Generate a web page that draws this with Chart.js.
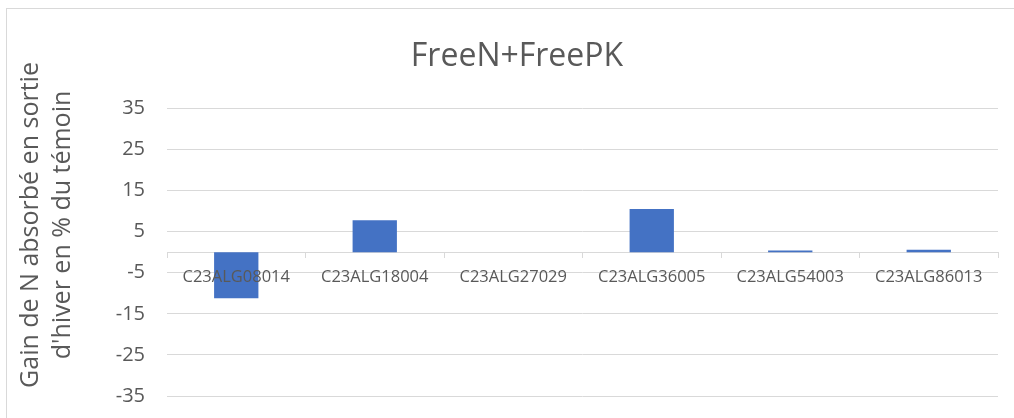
<!DOCTYPE html>
<html lang="fr">
<head>
<meta charset="utf-8">
<title>FreeN+FreePK</title>
<script src="https://cdn.jsdelivr.net/npm/chart.js@4/dist/chart.umd.min.js"></script>
<style>
  html, body { margin:0; padding:0; background:#fff; overflow:hidden; width:1014px; height:418px; }
  #cadre { position:absolute; left:6px; top:8px; width:1100px; height:500px;
           border-left:1px solid #d9d9d9; border-top:1px solid #d9d9d9; pointer-events:none; }
  #c { position:absolute; left:0; top:0; }
</style>
</head>
<body>
<div id="cadre"></div>
<!-- le bas du cadre Excel est coupé : canevas un peu plus haut que la fenêtre -->
<canvas id="c" width="1014" height="430"></canvas>
<script>
// données
const varietes = ['C23ALG08014','C23ALG18004','C23ALG27029','C23ALG36005','C23ALG54003','C23ALG86013'];
const gainN    = [-11.2, 7.8, 0, 10.5, 0.4, 0.6];
const yTicks   = [-35, -25, -15, -5, 5, 15, 25, 35];
const titreY   = ['Gain de N absorbé en sortie', "d'hiver en % du témoin"];

const GRIS = '#595959', GRILLE = '#d9d9d9', BLEU = '#4472c4';
const POLICE = "'Open Sans', sans-serif";

// titre de l'axe vertical : Excel le centre un peu plus haut que la zone de tracé
const titreAxeY = {
  id:'titreAxeY',
  afterDraw(chart) {
    const ctx = chart.ctx;
    ctx.save();
    ctx.translate(31, 225);
    ctx.rotate(-Math.PI / 2);
    ctx.fillStyle = GRIS;
    ctx.font = `25px ${POLICE}`;
    ctx.textAlign = 'center';
    ctx.textBaseline = 'middle';
    titreY.forEach((t, i) => ctx.fillText(t, 0, i * 32));
    ctx.restore();
  }
};

new Chart(document.getElementById('c'), {
  type:'bar',
  data:{labels:varietes,datasets:[{
    data:gainN,
    backgroundColor:BLEU,borderWidth:0,
    categoryPercentage:1,barPercentage:0.32
  }]},
  options:{
    responsive:false,animation:false,
    layout:{padding:{left:36,right:16,top:0,bottom:0}},
    plugins:{
      legend:{display:false},
      tooltip:{enabled:false},
      title:{display:true,text:'FreeN+FreePK',color:GRIS,
        font:{family:POLICE,size:32,weight:'normal',lineHeight:1.2},
        padding:{top:38,bottom:32}}
    },
    scales:{
      x:{
        position:{y:0},
        grid:{drawOnChartArea:false,drawTicks:true,tickLength:5,color:GRILLE},
        border:{display:true,color:GRILLE,width:1},
        // étiquettes par-dessus les barres, comme dans Excel
        ticks:{z:1,color:GRIS,font:{family:POLICE,size:16.5},padding:10,maxRotation:0,autoSkip:false}
      },
      y:{
        min:-35,max:35,
        afterBuildTicks:s=>{ s.ticks = yTicks.map(v=>({value:v})); },
        afterFit:s=>{ s.width = 131; },
        grid:{color:GRILLE,drawTicks:false},
        border:{display:false},
        ticks:{color:GRIS,font:{family:POLICE,size:20},padding:22}
      }
    }
  },
  plugins:[titreAxeY]
});
</script>
</body>
</html>
